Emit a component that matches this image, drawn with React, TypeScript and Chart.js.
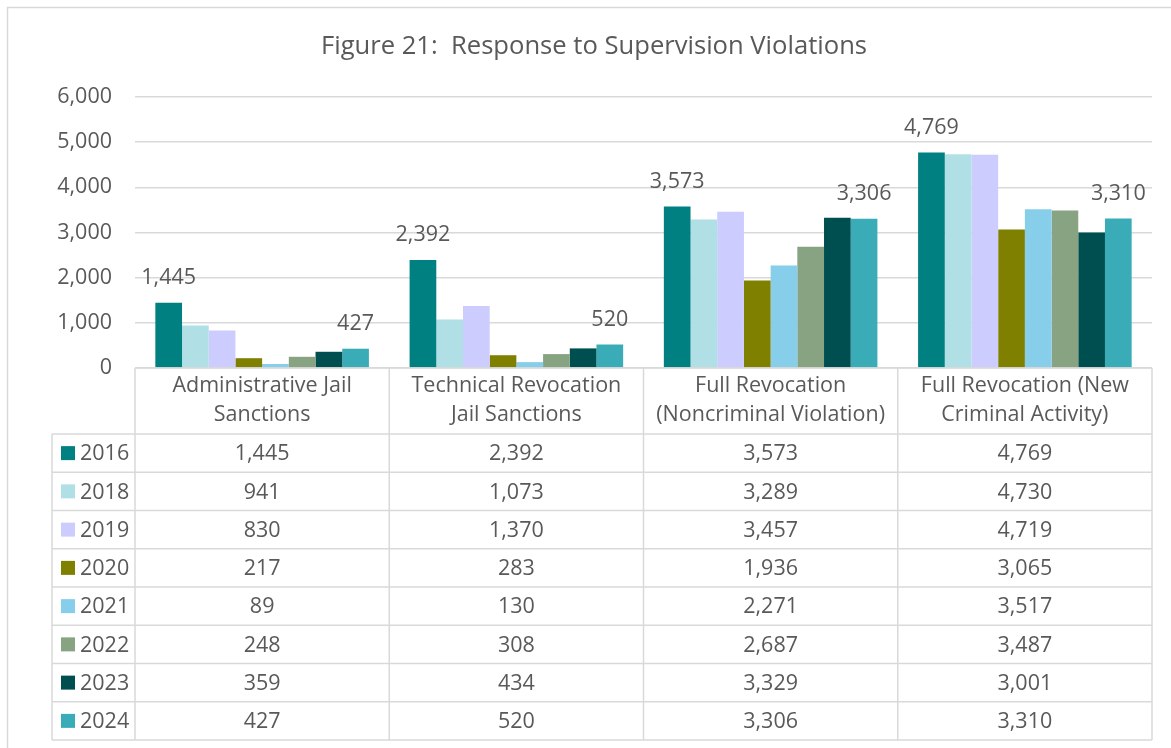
import React, { useEffect, useRef } from "react";
import { Chart, registerables } from "chart.js";

Chart.register(...registerables);

const TITLE = "Figure 21:  Response to Supervision Violations";
const CATEGORY_LINES = [
  ["Administrative Jail", "Sanctions"],
  ["Technical Revocation", "Jail Sanctions"],
  ["Full Revocation", "(Noncriminal Violation)"],
  ["Full Revocation (New", "Criminal Activity)"],
];
const YEARS = ["2016", "2018", "2019", "2020", "2021", "2022", "2023", "2024"];
const V2016 = [1445, 2392, 3573, 4769];
const V2018 = [941, 1073, 3289, 4730];
const V2019 = [830, 1370, 3457, 4719];
const V2020 = [217, 283, 1936, 3065];
const V2021 = [89, 130, 2271, 3517];
const V2022 = [248, 308, 2687, 3487];
const V2023 = [359, 434, 3329, 3001];
const V2024 = [427, 520, 3306, 3310];
const SERIES = [V2016, V2018, V2019, V2020, V2021, V2022, V2023, V2024];
const COLORS = ["#008080", "#B0E0E6", "#CCCCFF", "#808000", "#87CEEB", "#87A382", "#004F50", "#3AACB8"];
const LABELED_YEARS = ["2016", "2024"];
const Y_MIN = 0;
const Y_MAX = 6000;
const Y_STEP = 1000;

const FONT = '"Open Sans", sans-serif';
const TEXT = "#595959";
const LINE = "#d9d9d9";
const FS = 21.5;
const fmt = (v: number) => v.toLocaleString("en-US");

const tablePlugin = {
  id: "tableAndDecor",
  beforeDraw(chart: any) {
    const ctx = chart.ctx;
    ctx.save();
    ctx.fillStyle = "#ffffff";
    ctx.fillRect(0, 0, chart.width, chart.height);
    ctx.strokeStyle = LINE;
    ctx.lineWidth = 1.5;
    ctx.strokeRect(7.5, 7.5, chart.width + 20, chart.height + 20);
    ctx.restore();
  },
  afterDraw(chart: any) {
    const ctx = chart.ctx;
    const xs = chart.scales.x;
    const ys = chart.scales.y;
    ctx.save();

    // title
    ctx.fillStyle = TEXT;
    ctx.font = `25.6px ${FONT}`;
    ctx.textAlign = "center";
    ctx.textBaseline = "middle";
    ctx.fillText(TITLE, 594, 47);

    // data labels
    ctx.font = `${FS}px ${FONT}`;
    chart.data.datasets.forEach((ds: any, di: number) => {
      if (!LABELED_YEARS.includes(ds.label)) return;
      const meta = chart.getDatasetMeta(di);
      meta.data.forEach((bar: any, i: number) => {
        ctx.fillText(fmt(ds.data[i]), bar.x, bar.y - 25);
      });
    });

    // table
    const n = CATEGORY_LINES.length;
    const half = (xs.getPixelForTick(1) - xs.getPixelForTick(0)) / 2;
    const bounds: number[] = [];
    for (let i = 0; i < n; i++) bounds.push(xs.getPixelForTick(i) - half);
    bounds.push(xs.getPixelForTick(n - 1) + half);
    const top = ys.getPixelForValue(Y_MIN);
    const headerH = 66;
    const rowH = 38.25;
    const legendLeft = 52;
    const rowsTop = top + headerH;
    const bottom = rowsTop + rowH * YEARS.length;

    ctx.strokeStyle = LINE;
    ctx.lineWidth = 1.5;
    ctx.beginPath();
    ctx.moveTo(bounds[0], top);
    ctx.lineTo(bounds[n], top);
    for (let r = 0; r <= YEARS.length; r++) {
      const y = rowsTop + r * rowH;
      ctx.moveTo(legendLeft, y);
      ctx.lineTo(bounds[n], y);
    }
    for (let i = 0; i <= n; i++) {
      ctx.moveTo(bounds[i], top);
      ctx.lineTo(bounds[i], bottom);
    }
    ctx.moveTo(legendLeft, rowsTop);
    ctx.lineTo(legendLeft, bottom);
    ctx.stroke();

    ctx.fillStyle = TEXT;
    ctx.font = `${FS}px ${FONT}`;
    ctx.textAlign = "center";
    ctx.textBaseline = "middle";
    CATEGORY_LINES.forEach((lines, i) => {
      const cx = xs.getPixelForTick(i);
      ctx.fillText(lines[0], cx, top + 18);
      ctx.fillText(lines[1], cx, top + 47);
    });

    chart.data.datasets.forEach((ds: any, r: number) => {
      const cy = rowsTop + r * rowH + rowH / 2;
      ctx.fillStyle = ds.backgroundColor;
      ctx.fillRect(61, cy - 7, 14, 14);
      ctx.fillStyle = TEXT;
      ctx.textAlign = "left";
      ctx.fillText(ds.label, 80, cy + 1);
      ctx.textAlign = "center";
      ds.data.forEach((v: number, i: number) => {
        ctx.fillText(fmt(v), xs.getPixelForTick(i), cy + 1);
      });
    });

    ctx.restore();
  },
};

export default function App() {
  const ref = useRef<HTMLCanvasElement | null>(null);
  useEffect(() => {
    if (!ref.current) return;
    const chart = new Chart(ref.current, {
      type: "bar",
      data: {
        labels: CATEGORY_LINES.map((l) => l.join(" ")),
        datasets: YEARS.map((y, i) => ({
          label: y,
          data: SERIES[i],
          backgroundColor: COLORS[i],
          borderWidth: 0,
          categoryPercentage: 0.84,
          barPercentage: 1.0,
        })),
      },
      options: {
        animation: false,
        responsive: true,
        maintainAspectRatio: false,
        layout: { padding: { left: 0, top: 97, right: 19, bottom: 380 } },
        plugins: {
          legend: { display: false },
          title: { display: false },
          tooltip: { enabled: false },
        },
        scales: {
          x: { display: false },
          y: {
            min: Y_MIN,
            max: Y_MAX,
            afterFit(scale: any) {
              scale.width = 135;
            },
            ticks: {
              stepSize: Y_STEP,
              padding: 23,
              color: TEXT,
              font: { family: FONT, size: FS },
              callback: (v: any) => fmt(Number(v)),
            },
            grid: { color: LINE, lineWidth: 1.5, drawTicks: false },
            border: { display: false },
          },
        },
      },
      plugins: [tablePlugin],
    });
    return () => chart.destroy();
  }, []);
  return (
    <div style={{ position: "fixed", left: 0, top: 0, width: 1171, height: 748, background: "#fff" }}>
      <canvas ref={ref} />
    </div>
  );
}
